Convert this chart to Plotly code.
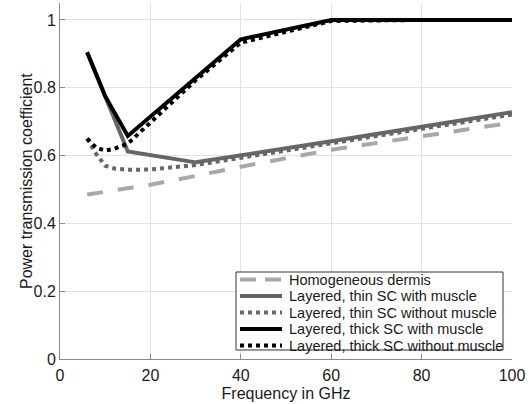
import plotly.graph_objects as go

# Frequency samples (GHz) and power transmission coefficients per skin model
freq_dermis = [6, 10, 15, 20, 30, 40, 60, 80, 100]
homogeneous_dermis = [0.485, 0.493, 0.503, 0.514, 0.540, 0.567, 0.617, 0.658, 0.697]

freq_thin_muscle = [6, 10, 15, 30, 40, 60, 80, 100]
thin_sc_with_muscle = [0.905, 0.775, 0.612, 0.580, 0.600, 0.642, 0.685, 0.728]

freq_thin_nomuscle = [6, 8, 10, 12, 15, 20, 30, 40, 60, 80, 100]
thin_sc_without_muscle = [0.650, 0.605, 0.570, 0.562, 0.558, 0.559, 0.572, 0.594, 0.636, 0.679, 0.721]

freq_thick_muscle = [6, 10, 15, 30, 40, 60, 80, 100]
thick_sc_with_muscle = [0.905, 0.775, 0.658, 0.829, 0.943, 1.0, 1.0, 1.0]

freq_thick_nomuscle = [6, 8, 10, 12, 15, 30, 40, 60, 80, 100]
thick_sc_without_muscle = [0.650, 0.623, 0.615, 0.620, 0.635, 0.822, 0.933, 0.997, 1.0, 1.0]

x_ticks = [0, 20, 40, 60, 80, 100]
y_ticks = [0, 0.2, 0.4, 0.6, 0.8, 1.0]
y_tick_labels = ["0", "0.2", "0.4", "0.6", "0.8", "1"]

FONT = "Liberation Sans, Arial, sans-serif"
TEXT = "#1a1a1a"

# (name, x, y, colour, plot dash, legend-sample dash)
series = [
    ("Homogeneous dermis", freq_dermis, homogeneous_dermis, "#a8a8a8", "16px,15px", "16px,9px"),
    ("Layered, thin SC with muscle", freq_thin_muscle, thin_sc_with_muscle, "#666666", "solid", "solid"),
    ("Layered, thin SC without muscle", freq_thin_nomuscle, thin_sc_without_muscle, "#666666", "4px,4px", "4px,4px"),
    ("Layered, thick SC with muscle", freq_thick_muscle, thick_sc_with_muscle, "#000000", "solid", "solid"),
    ("Layered, thick SC without muscle", freq_thick_nomuscle, thick_sc_without_muscle, "#000000", "4px,4px", "4px,4px"),
]

W, H = 530, 404
ML, MR, MT, MB = 60, 18, 3, 45
PW, PH = W - ML - MR, H - MT - MB


def px_x(p):
    return (p - ML) / PW


def px_y(p):
    return (H - MB - p) / PH


fig = go.Figure()
for name, xs, ys, color, dash, _ in series:
    fig.add_trace(go.Scatter(
        x=xs, y=ys, mode="lines", name=name,
        line=dict(color=color, width=4, dash=dash),
        showlegend=False,
    ))

# Compact legend box in the lower-right corner of the axes
box_l, box_r, box_t, box_b = 236, 503, 272, 350
row0, row_step = 279.5, 16.5
sample_l, sample_r, text_l = 240, 282, 287

shapes = [dict(
    type="rect", xref="paper", yref="paper",
    x0=px_x(box_l), x1=px_x(box_r), y0=px_y(box_b), y1=px_y(box_t),
    line=dict(color="#333333", width=1), fillcolor="white", layer="above",
)]
annotations = []
for i, (name, _, _, color, _, ldash) in enumerate(series):
    yc = row0 + i * row_step
    shapes.append(dict(
        type="line", xref="paper", yref="paper",
        x0=px_x(sample_l), x1=px_x(sample_r), y0=px_y(yc), y1=px_y(yc),
        line=dict(color=color, width=4, dash=ldash), layer="above",
    ))
    annotations.append(dict(
        xref="paper", yref="paper", x=px_x(text_l), y=px_y(yc),
        xanchor="left", yanchor="middle", showarrow=False, text=name,
        font=dict(family=FONT, size=14.5, color=TEXT),
    ))

# Rotated y-axis title
annotations.append(dict(
    xref="paper", yref="paper", x=px_x(26), y=px_y(181),
    xanchor="center", yanchor="middle", showarrow=False, textangle=-90,
    text="Power transmission coefficient",
    font=dict(family=FONT, size=16, color=TEXT),
))

axis_common = dict(
    showgrid=True, gridcolor="#e3e3e3", gridwidth=1,
    showline=True, linecolor="#8a8a8a", linewidth=1,
    ticks="inside", ticklen=5, tickcolor="#8a8a8a",
    zeroline=False, automargin=False,
    tickfont=dict(family=FONT, size=16, color=TEXT),
)

fig.update_layout(
    width=W, height=H,
    margin=dict(l=ML, r=MR, t=MT, b=MB),
    plot_bgcolor="white", paper_bgcolor="white",
    font=dict(family=FONT, color=TEXT),
    xaxis=dict(
        range=[0, 100], tickvals=x_ticks, ticktext=[str(v) for v in x_ticks],
        ticklabelstandoff=2,
        title=dict(text="Frequency in GHz", font=dict(family=FONT, size=16, color=TEXT), standoff=4),
        **axis_common,
    ),
    yaxis=dict(
        range=[0, 1.05], tickvals=y_ticks, ticktext=y_tick_labels,
        **axis_common,
    ),
    shapes=shapes,
    annotations=annotations,
    showlegend=False,
)

fig.write_html("out.html")
